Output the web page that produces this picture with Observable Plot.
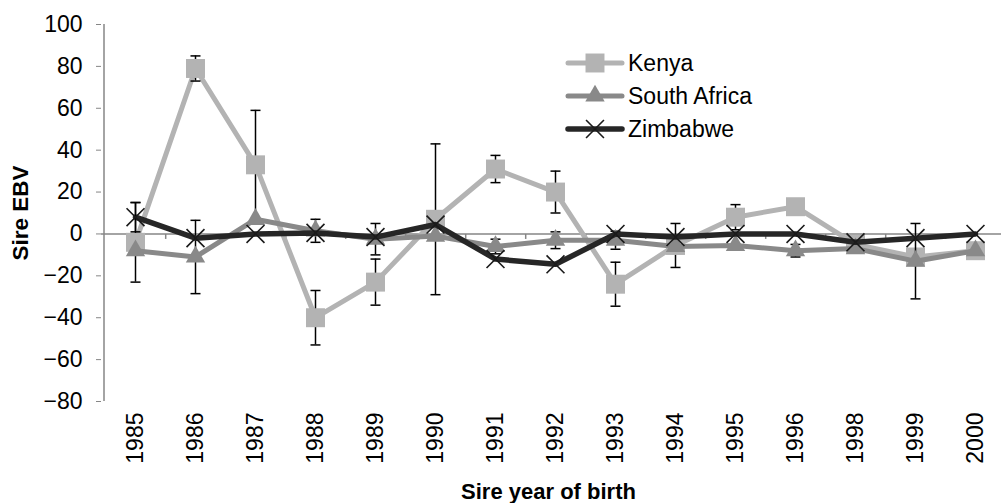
<!DOCTYPE html>
<html>
<head>
<meta charset="utf-8">
<script src="https://cdn.jsdelivr.net/npm/d3@7"></script>
<script src="https://cdn.jsdelivr.net/npm/@observablehq/plot@0.6"></script>
<style>
  html, body { margin: 0; padding: 0; background: #fff; }
  #wrap { position: relative; width: 1001px; height: 503px; font-family: "Liberation Sans", Arial, sans-serif; }
  #legend { position: absolute; left: 0; top: 0; pointer-events: none; }
</style>
</head>
<body>
<div id="wrap"></div>
<script>
// ---- data ----
const years = ["1985","1986","1987","1988","1989","1990","1991","1992","1993","1994","1995","1996","1998","1999","2000"];
const yTicks = [-80,-60,-40,-20,0,20,40,60,80,100];
const seriesNames = ["Kenya","South Africa","Zimbabwe"];
const kenya        = [-4, 79, 33, -40, -23, 7, 31, 20, -24, -5.5, 8, 13, -5, -11, -8];
const southAfrica  = [-8, -11, 7, 1.5, -2.5, -1, -6, -3, -3, -6, -5.5, -8, -7, -13, -8];
const zimbabwe     = [8, -2, 0, 0.5, -1.5, 4.5, -12, -14.5, 0, -1.5, 0, 0, -4, -2, 0];
// error-bar half-widths (null = none visible)
const kenyaErr       = [19, 6, 26, 13, 11, 36, 6.5, 10, 10.5, 10.5, 6, null, null, null, null];
const southAfricaErr = [null, 17.5, null, 5.5, 7.5, null, 3.5, 4, 4.3, null, null, 3, null, 18, null];
const zimbabweErr    = [7, null, null, null, null, null, null, null, null, null, null, null, null, null, null];
const xTitle = "Sire year of birth";
const yTitle = "Sire EBV";

// ---- styles ----
const FONT = "Liberation Sans, Arial, sans-serif";
const AXIS = "#868686";
const styles = [
  {color: "#b3b3b3", width: 5,   symbol: "square",   r: 10.7, fill: "#b3b3b3", stroke: "none", sw: 0},
  {color: "#898989", width: 5,   symbol: "triangle", r: 7.2,  fill: "#898989", stroke: "none", sw: 0},
  {color: "#262626", width: 5.5, symbol: "times",    r: 8.2,  fill: "none",    stroke: "#1a1a1a", sw: 1.6}
];
const values = [kenya, southAfrica, zimbabwe];
const errs = [kenyaErr, southAfricaErr, zimbabweErr];

const capSymbol = {draw(ctx) { ctx.moveTo(-5, 0); ctx.lineTo(5, 0); }};
const vTickSymbol = {draw(ctx) { ctx.moveTo(0, 0); ctx.lineTo(0, 5); }};

const seriesMarks = seriesNames.flatMap((name, s) => {
  const pts = years.map((year, i) => ({year, value: values[s][i]}));
  const eb = years.map((year, i) => ({year, value: values[s][i], e: errs[s][i]}))
                  .filter(d => d.e != null)
                  .map(d => ({year: d.year, lo: d.value - d.e, hi: d.value + d.e}));
  const st = styles[s];
  return [
    Plot.line(pts, {x: "year", y: "value", stroke: st.color, strokeWidth: st.width, strokeLinejoin: "round", strokeLinecap: "round"}),
    Plot.ruleX(eb, {x: "year", y1: "lo", y2: "hi", stroke: "#000", strokeWidth: 1.5}),
    Plot.dot(eb, {x: "year", y: "lo", symbol: capSymbol, stroke: "#000", strokeWidth: 1.5}),
    Plot.dot(eb, {x: "year", y: "hi", symbol: capSymbol, stroke: "#000", strokeWidth: 1.5}),
    Plot.dot(pts, {x: "year", y: "value", symbol: st.symbol, r: st.r, fill: st.fill, stroke: st.stroke, strokeWidth: st.sw})
  ];
});

const chart = Plot.plot({
  width: 1001,
  height: 503,
  marginLeft: 101,
  marginRight: 0,
  marginTop: 24,
  marginBottom: 102,
  style: {fontFamily: FONT, color: "#000", background: "#fff", overflow: "visible"},
  x: {type: "point", domain: years, range: [132.5, 978], padding: 0, axis: null},
  y: {domain: [-80, 100], axis: null},
  marks: [
    Plot.ruleY([0], {stroke: AXIS, strokeWidth: 1.5}),
    Plot.dot(years.slice(0, -1), {x: d => d, y: () => 0, symbol: vTickSymbol, stroke: AXIS, strokeWidth: 1.5, dx: 30.2}),
    Plot.ruleX([years[0]], {y1: -80, y2: 100, dx: -31.5, stroke: AXIS, strokeWidth: 1.5}),
    Plot.axisY(yTicks, {anchor: "left", tickSize: 5, tickPadding: 14, fontSize: 23, stroke: AXIS, label: null}),
    Plot.text(years, {x: d => d, frameAnchor: "bottom", rotate: -90, textAnchor: "end", lineAnchor: "middle", dy: 11, fontSize: 23, fill: "#000"}),
    Plot.text([xTitle], {frameAnchor: "bottom", textAnchor: "middle", dx: -3, dy: 97, lineAnchor: "bottom", fontSize: 22, fontWeight: "bold", fill: "#000"}),
    Plot.text([yTitle], {frameAnchor: "left", textAnchor: "middle", rotate: -90, dx: -81, lineAnchor: "middle", fontSize: 22.5, fontWeight: "bold", fill: "#000"}),
    ...seriesMarks
  ]
});
document.getElementById("wrap").appendChild(chart);

// ---- legend (inside plot area, top) ----
const legendRows = [63, 96, 129];
const leg = d3.select("#wrap").append("svg").attr("id", "legend").attr("width", 1001).attr("height", 503);
seriesNames.forEach((name, s) => {
  const st = styles[s];
  const g = leg.append("g").attr("transform", `translate(0,${legendRows[s]})`);
  g.append("line").attr("x1", 568).attr("x2", 622).attr("y1", 0).attr("y2", 0)
    .attr("stroke", st.color).attr("stroke-width", st.width).attr("stroke-linecap", "round");
  const symType = {square: d3.symbolSquare, triangle: d3.symbolTriangle, times: d3.symbolTimes}[st.symbol];
  g.append("path").attr("transform", "translate(595,0)")
    .attr("d", d3.symbol(symType, Math.PI * st.r * st.r)())
    .attr("fill", st.fill).attr("stroke", st.stroke).attr("stroke-width", st.sw);
  g.append("text").attr("x", 628).attr("y", 0).attr("dy", "0.35em")
    .attr("font-family", FONT).attr("font-size", 23).attr("fill", "#000").text(name);
});
</script>
</body>
</html>
